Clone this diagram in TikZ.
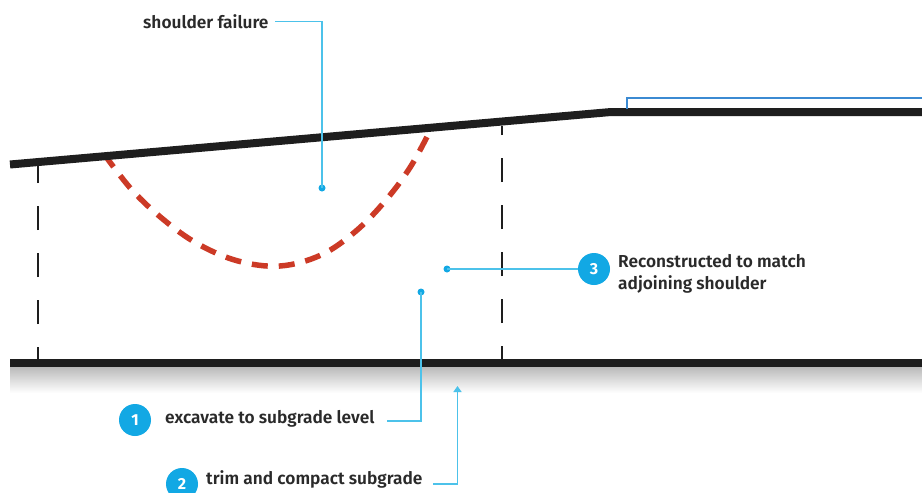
\documentclass[tikz,border=0pt]{standalone}
\usepackage{fontspec}
\setmainfont{Fira Sans}[UprightFont=* SemiBold, BoldFont=* Bold]
\usetikzlibrary{arrows.meta}
\definecolor{ink}{HTML}{1E1E1E}
\definecolor{txt}{HTML}{2A2A2A}
\definecolor{cyanc}{HTML}{12A8E4}
\definecolor{cyanl}{HTML}{4CC2EA}
\definecolor{blued}{HTML}{3B8AD2}
\definecolor{redc}{HTML}{CC3A26}
\begin{document}
\begin{tikzpicture}[x=1pt,y=-1pt,
  ground/.style={draw=ink,line width=8pt},
  guide/.style={draw=ink,line width=1.6pt,dash pattern=on 24pt off 23pt},
  fail/.style={draw=redc,line width=5.5pt,dash pattern=on 16pt off 11pt},
  leader/.style={draw=cyanl,line width=1.5pt},
  dotc/.style={circle,fill=cyanc,inner sep=0pt,minimum size=7pt},
  numc/.style={circle,fill=cyanc,inner sep=0pt,minimum size=32pt,text=white,font=\fontsize{16}{16}\selectfont\bfseries},
  lbl/.style={text=txt,inner sep=0pt,anchor=base west,font=\fontsize{17.3}{21}\selectfont}
]
\useasboundingbox (0,0) rectangle (922,493);
\fill[white] (0,0) rectangle (922,493);
% shadow under subgrade
\shade[top color=black!28,bottom color=white] (10,366) rectangle (922,393);
% red failure arc
\draw[fail] plot[smooth,tension=0.6] coordinates {(104,154) (132,190) (164,220) (198,244) (238,261) (280,266) (321,255) (356,231) (386,200) (411,166) (432,127)};
% dashed guides
\coordinate (gl1) at (38,360); \coordinate (gl2) at (38,166);
\coordinate (gr1) at (502,360); \coordinate (gr2) at (502,126);
\draw[guide,dash phase=11pt] (gl1) -- (gl2);
\draw[guide,dash phase=10pt] (gr1) -- (gr2);
% ground lines
\coordinate (s0) at (10,164.5); \coordinate (s1) at (611,112); \coordinate (s2) at (922,112);
\draw[ground,line join=miter] (s0) -- (s1) -- (s2);
\coordinate (b0) at (10,362.5); \coordinate (b1) at (922,362.5);
\draw[ground] (b0) -- (b1);
% adjoining shoulder bracket
\coordinate (j0) at (627,109); \coordinate (j1) at (627,98); \coordinate (j2) at (922,98);
\draw[draw=blued,line width=1.5pt] (j0) -- (j1) -- (j2);
% shoulder failure
\node[lbl] (sf) at (143,28) {shoulder failure};
\node[dotc] (d0) at (322,188) {};
\coordinate (c0) at (322,21.7);
\coordinate (e0) at (275,21.7);
\draw[leader] (e0) -- (c0) -- (d0.center);
% item 3
\node[dotc] (d3) at (447,269) {};
\node[numc] (n3) at (594,269) {3};
\draw[leader] (d3.center) -- (n3);
\node[lbl] (t3a) at (618,267) {Reconstructed to match};
\node[lbl] (t3b) at (618,289.5) {adjoining shoulder};
% item 1
\node[dotc] (d1) at (421,292) {};
\node[numc] (n1) at (135,420) {1};
\node[lbl] (t1) at (165,423.5) {excavate to subgrade level};
\coordinate (c1) at (421,421);
\coordinate (e1) at (387,421);
\draw[leader] (d1.center) -- (c1) -- (e1);
% item 2
\node[numc] (n2) at (182,484) {2};
\node[lbl] (t2) at (206,484) {trim and compact subgrade};
\coordinate (e2) at (433,484);
\coordinate (c2) at (457.5,484);
\coordinate (a2) at (457.5,386);
\draw[leader,-{Triangle[length=6pt,width=8pt]}] (e2) -- (c2) -- (a2);
\end{tikzpicture}
\end{document}
